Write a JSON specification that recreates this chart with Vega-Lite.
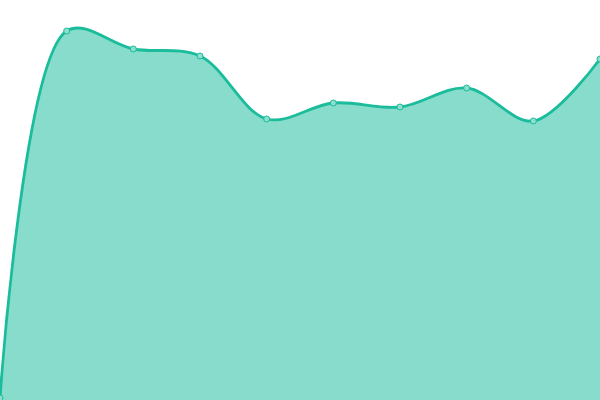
{
  "$schema": "https://vega.github.io/schema/vega-lite/v6.json",
  "width": 600,
  "height": 400,
  "autosize": "none",
  "padding": 0,
  "data": {
    "values": [
      {"i": 0, "value": 2},
      {"i": 1, "value": 369},
      {"i": 2, "value": 351},
      {"i": 3, "value": 344},
      {"i": 4, "value": 281},
      {"i": 5, "value": 297},
      {"i": 6, "value": 293},
      {"i": 7, "value": 312},
      {"i": 8, "value": 279},
      {"i": 9, "value": 341}
    ]
  },
  "encoding": {
    "x": {"field": "i", "type": "quantitative", "scale": {"domain": [0, 9], "nice": false}, "axis": null},
    "y": {"field": "value", "type": "quantitative", "scale": {"domain": [0, 400], "nice": false}, "axis": null}
  },
  "layer": [
    {"mark": {"type": "area", "interpolate": "catmull-rom", "color": "#1abc9c", "opacity": 0.52}},
    {"mark": {"type": "line", "interpolate": "catmull-rom", "color": "#1abc9c", "strokeWidth": 2.8}},
    {"mark": {"type": "point", "filled": true, "fill": "#8de0cf", "stroke": "#1abc9c", "strokeWidth": 1, "opacity": 1, "size": 36}}
  ],
  "config": {
    "background": "white",
    "view": {"stroke": null}
  }
}
